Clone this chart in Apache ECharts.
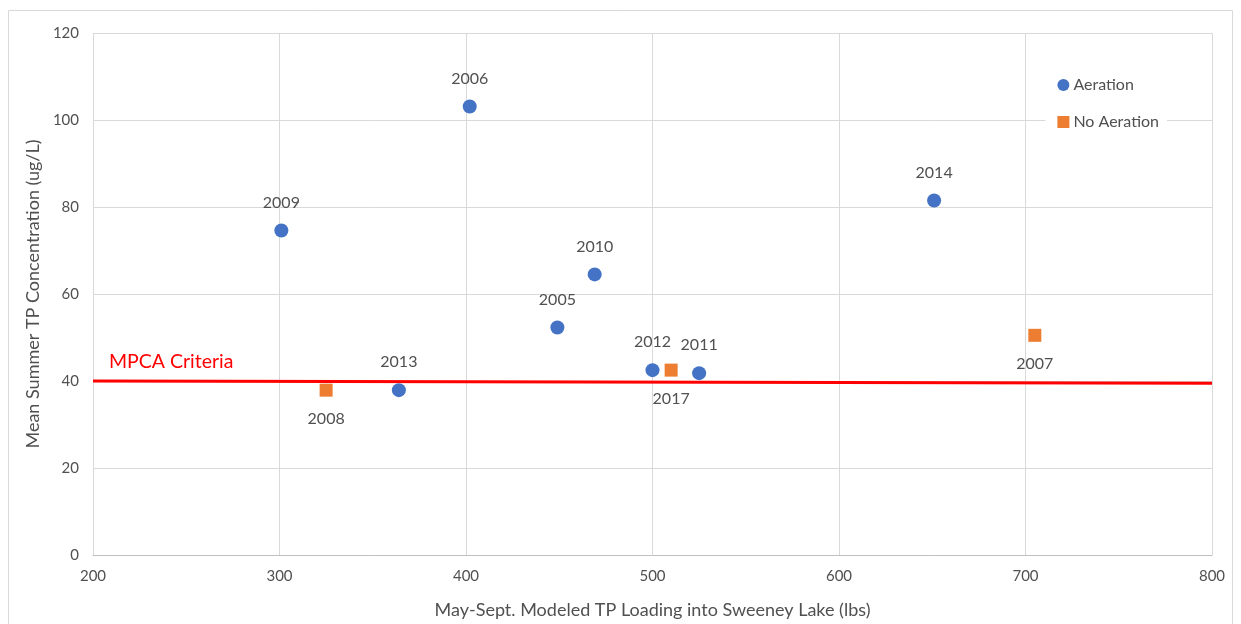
<!DOCTYPE html>
<html>
<head>
<meta charset="UTF-8">
<title>Sweeney Lake TP</title>
<script src="https://cdn.jsdelivr.net/npm/echarts@6/dist/echarts.min.js"></script>
<style>
  html, body { margin: 0; padding: 0; background: #fff; }
  #main { width: 1241px; height: 624px; }
</style>
</head>
<body>
<div id="main"></div>
<script>
// data
var aerationYears = ['2009', '2006', '2013', '2005', '2010', '2012', '2011', '2014'];
var aerationLoad  = [301, 402, 364, 449, 469, 500, 525, 651];
var aerationTP    = [74.6, 103.1, 37.9, 52.3, 64.5, 42.5, 41.8, 81.5];

var noAerYears = ['2008', '2017', '2007'];
var noAerLoad  = [325, 510, 705];
var noAerTP    = [37.9, 42.5, 50.5];

var criteriaX = [200, 800];
var criteriaY = [40.0, 39.5];

var font = 'Lato, "Open Sans", sans-serif';
var grey = '#505050';

function pts(xs, ys, names) {
  return xs.map(function (x, i) { return { value: [x, ys[i]], name: names ? names[i] : '' }; });
}

var criteriaData = criteriaX.map(function (x, i) { return [x, criteriaY[i]]; });
criteriaData[0] = {
  value: criteriaData[0],
  label: {
    show: true, position: 'right', offset: [11, -19],
    color: '#ff0000', fontSize: 19.5, fontFamily: font,
    formatter: 'MPCA Criteria'
  }
};

var chart = echarts.init(document.getElementById('main'));
chart.setOption({
  animation: false,
  textStyle: { fontFamily: font },
  graphic: [{
    type: 'rect',
    shape: { x: 8.5, y: 10.5, width: 1224, height: 640 },
    style: { fill: 'none', stroke: '#d9d9d9', lineWidth: 1 },
    z: -1
  }],
  grid: { left: 93, right: 29, top: 33, bottom: 68 },
  legend: {
    orient: 'vertical',
    right: 74,
    top: 75,
    itemGap: 21,
    itemWidth: 12,
    itemHeight: 12,
    backgroundColor: '#fff',
    padding: [2, 8, 2, 12],
    textStyle: { color: grey, fontSize: 16, fontFamily: font, padding: [0, 0, 0, -1] },
    data: [{ name: 'Aeration', icon: 'circle' }, { name: 'No Aeration', icon: 'rect' }]
  },
  xAxis: {
    type: 'value',
    min: 200, max: 800, interval: 100,
    name: 'May-Sept. Modeled TP Loading into Sweeney Lake (lbs)',
    nameLocation: 'middle',
    nameGap: 46,
    nameTextStyle: { color: grey, fontSize: 18, fontFamily: font },
    axisLine: { show: true, lineStyle: { color: '#bfbfbf' } },
    axisTick: { show: false },
    axisLabel: { color: grey, fontSize: 15, margin: 14, fontFamily: font },
    splitLine: { show: true, lineStyle: { color: '#d9d9d9' } }
  },
  yAxis: {
    type: 'value',
    min: 0, max: 120, interval: 20,
    name: 'Mean Summer TP Concentration (ug/L)',
    nameLocation: 'middle',
    nameGap: 51,
    nameTextStyle: { color: grey, fontSize: 18, fontFamily: font },
    axisLine: { show: false },
    axisTick: { show: false },
    axisLabel: { color: grey, fontSize: 15, margin: 14, fontFamily: font },
    splitLine: { show: true, lineStyle: { color: '#d9d9d9' } }
  },
  series: [
    {
      name: 'MPCA Criteria',
      type: 'line',
      data: criteriaData,
      showSymbol: true,
      symbol: 'circle',
      symbolSize: 0,
      lineStyle: { color: '#ff0000', width: 3 },
      itemStyle: { color: '#ff0000' },
      silent: true,
      z: 1
    },
    {
      name: 'Aeration',
      type: 'scatter',
      symbol: 'circle',
      symbolSize: 14,
      itemStyle: { color: '#4472c4', opacity: 1 },
      z: 3,
      data: pts(aerationLoad, aerationTP, aerationYears),
      label: {
        show: true, position: 'top', distance: 13,
        color: grey, fontSize: 16, fontFamily: font,
        formatter: function (p) { return p.name; }
      }
    },
    {
      name: 'No Aeration',
      type: 'scatter',
      symbol: 'rect',
      symbolSize: 13,
      itemStyle: { color: '#ed7d31', opacity: 1 },
      z: 3,
      data: pts(noAerLoad, noAerTP, noAerYears),
      label: {
        show: true, position: 'bottom', distance: 14,
        color: grey, fontSize: 16, fontFamily: font,
        formatter: function (p) { return p.name; }
      }
    }
  ]
});
</script>
</body>
</html>
